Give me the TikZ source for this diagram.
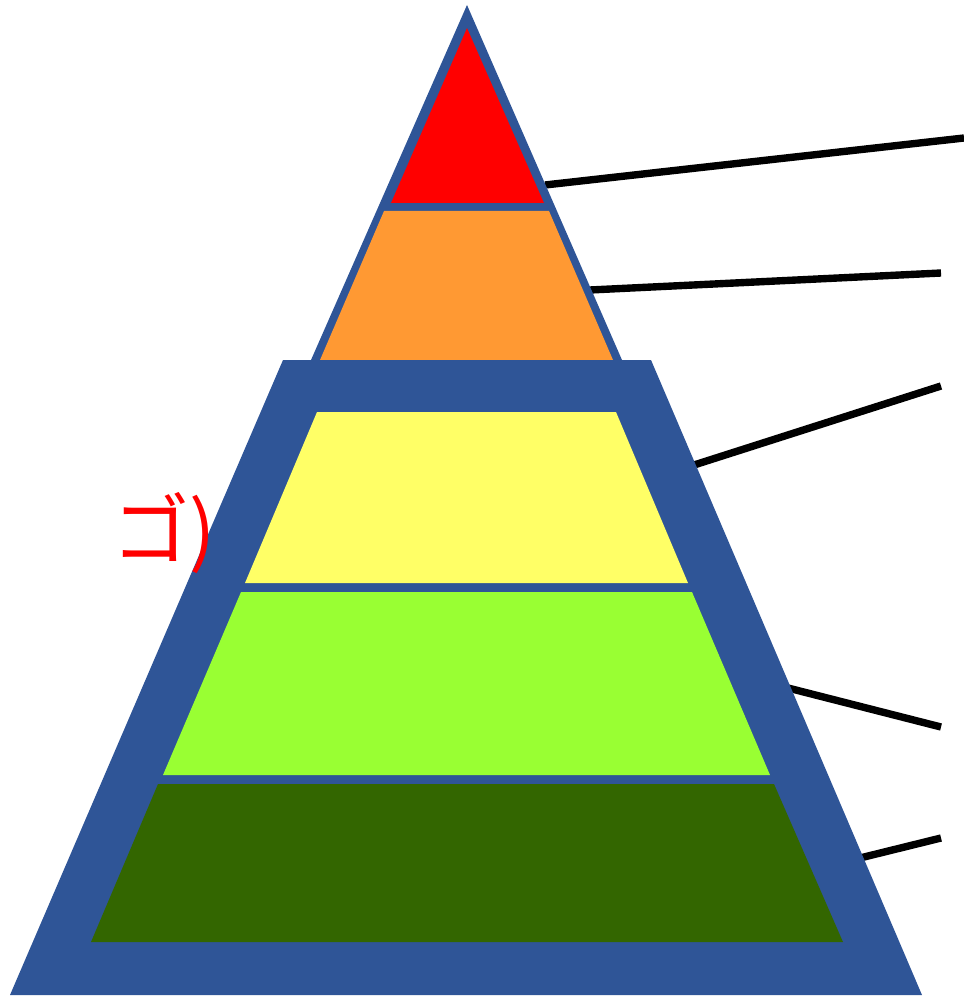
\documentclass[tikz,border=0pt]{standalone}
\usepackage{fontspec}
\newfontfamily\jpfont{Noto Sans CJK JP}
\usepackage{xcolor}
\usetikzlibrary{positioning, calc}

\definecolor{frameblue}{HTML}{2F5597}
\definecolor{layorange}{HTML}{FF9933}
\definecolor{layyellow}{HTML}{FFFF66}
\definecolor{laylime}{HTML}{99FF33}
\definecolor{laydark}{HTML}{336600}

\begin{document}
\begin{tikzpicture}[
    x=0.01cm, y=-0.01cm,
    frame/.style={fill=frameblue, draw=none},
    layer/.style={draw=none},
    line/.style={black, line width=2.1pt}
]
\useasboundingbox (0,0) rectangle (964,997);

% Leader ends
\coordinate (s1) at (545,185);  \coordinate (e1) at (964,138);
\coordinate (s2) at (590,290);  \coordinate (e2) at (941,273);
\coordinate (s3) at (694,465);  \coordinate (e3) at (941,386);
\coordinate (s4) at (788,688);  \coordinate (e4) at (941,727);
\coordinate (s5) at (860,858);  \coordinate (e5) at (941,838);

% Leaders
\draw[line] (s1) -- (e1);
\draw[line] (s2) -- (e2);
\draw[line] (s3) -- (e3);
\draw[line] (s4) -- (e4);
\draw[line] (s5) -- (e5);

% Top triangle
\fill[frame] (467,5) -- (622,360) -- (311,360) -- cycle;
\fill[layer, red] (467,28) -- (544,203) -- (391,203) -- cycle;
\fill[layer, layorange] (384,211) -- (549,211) -- (613,360) -- (320,360) -- cycle;

% Base trapezoid
\fill[frame] (283,360) -- (651,360) -- (922,995) -- (10,995) -- cycle;
\fill[layer, layyellow] (317,412) -- (616,412) -- (688,583) -- (245,583) -- cycle;
\fill[layer, laylime] (241,592) -- (692,592) -- (770,775) -- (163,775) -- cycle;
\fill[layer, laydark] (158,784) -- (774,784) -- (843,942) -- (91,942) -- cycle;

% Label
\node[text=red, inner sep=0pt, font=\jpfont\fontsize{22}{22}\selectfont] (lbl) at (164,533) {ゴ)};

\end{tikzpicture}
\end{document}
